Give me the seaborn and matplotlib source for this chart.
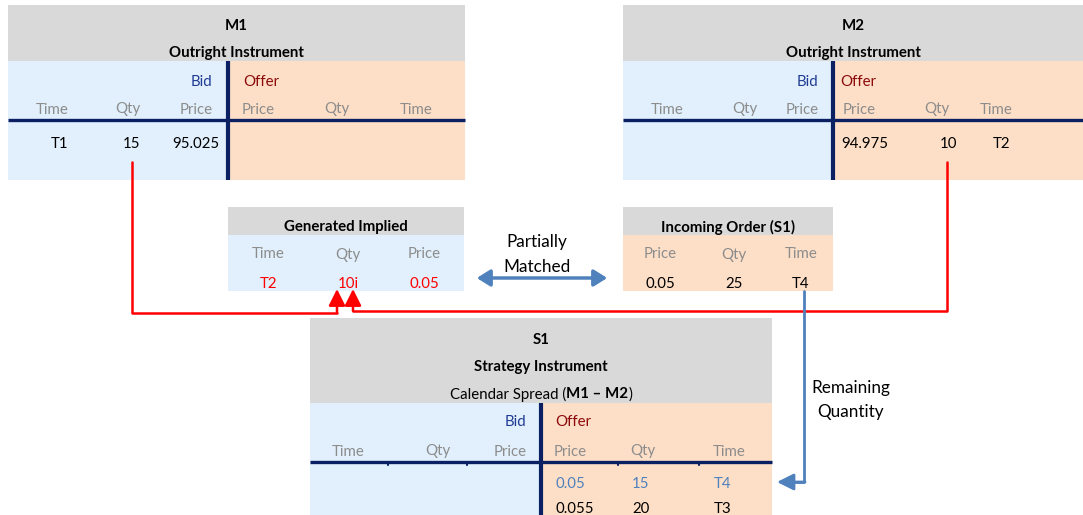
import matplotlib
matplotlib.use("Agg")
import matplotlib.pyplot as plt
import seaborn as sns
from matplotlib.patches import Rectangle, FancyArrowPatch

# text content of the diagram
m1_title = ["M1", "Outright Instrument"]
m2_title = ["M2", "Outright Instrument"]
bid_cols = ["Time", "Qty", "Price"]
offer_cols = ["Price", "Qty", "Time"]
m1_bid = ["T1", "15", "95.025"]
m2_offer = ["94.975", "10", "T2"]
implied_cols = ["Time", "Qty", "Price"]
implied_vals = ["T2", "10i", "0.05"]
incoming_cols = ["Price", "Qty", "Time"]
incoming_vals = ["0.05", "25", "T4"]
s1_title = ["S1", "Strategy Instrument"]
s1_offer_rows = [["0.05", "15", "T4"], ["0.055", "20", "T3"]]

sns.set_theme(style="white")
plt.rcParams['font.family'] = ['Lato', 'DejaVu Sans']

GRAY = "#D9D9D9"
BLUE_BG = "#E1F0FC"
ORANGE_BG = "#FDDFC8"
NAVY = "#0B2062"
HDR = "#8C8C8C"
BIDC = "#1F3A93"
OFFC = "#8B0A0A"
RED = "#FF0000"
ARROW = "#4F81BD"
FS = 10.8

fig = plt.figure(figsize=(10.83, 5.15), dpi=100)
ax = fig.add_axes([0, 0, 1, 1])
ax.set_xlim(0, 1083)
ax.set_ylim(515, 0)
ax.axis('off')


def rect(x0, y0, x1, y1, color):
    ax.add_patch(Rectangle((x0, y0), x1 - x0, y1 - y0, facecolor=color, edgecolor='none', zorder=1))


def txt(x, y, s, ha='center', color='black', bold=False, fs=FS):
    # small downward nudge so the glyphs sit like the reference
    ax.text(x, y + 1.5, s, ha=ha, va='center', color=color, fontsize=fs,
            fontweight='bold' if bold else 'normal', zorder=5)


# ---- M1 ----
rect(8, 5, 465, 61, GRAY)
rect(8, 61, 228, 180, BLUE_BG)
rect(228, 61, 465, 180, ORANGE_BG)
txt(236, 25, m1_title[0], bold=True)
txt(236, 52, m1_title[1], bold=True)
txt(212, 80, "Bid", ha='right', color=BIDC)
txt(243, 80, "Offer", ha='left', color=OFFC)
for xx, c in zip([52, 128, 196], bid_cols):
    txt(xx, 108, c, color=HDR)
for xx, c in zip([258, 337, 416], offer_cols):
    txt(xx, 108, c, color=HDR)
for xx, v in zip([68, 140, 219], m1_bid):
    txt(xx, 142, v, ha='right')
ax.plot([8, 465], [119.5, 119.5], color=NAVY, lw=2.4, zorder=3, solid_capstyle='butt')
ax.plot([228, 228], [61, 180], color=NAVY, lw=3, zorder=3, solid_capstyle='butt')

# ---- M2 ----
rect(623, 5, 1083, 61, GRAY)
rect(623, 61, 833, 180, BLUE_BG)
rect(833, 61, 1083, 180, ORANGE_BG)
txt(853, 25, m2_title[0], bold=True)
txt(853, 52, m2_title[1], bold=True)
txt(818, 80, "Bid", ha='right', color=BIDC)
txt(840, 80, "Offer", ha='left', color=OFFC)
for xx, c in zip([667, 745, 802], bid_cols):
    txt(xx, 108, c, color=HDR)
for xx, c in zip([859, 937, 996], offer_cols):
    txt(xx, 108, c, color=HDR)
for xx, v in zip([841, 940, 993], m2_offer):
    txt(xx, 142, v, ha='left')
ax.plot([623, 1083], [119.5, 119.5], color=NAVY, lw=2.4, zorder=3, solid_capstyle='butt')
ax.plot([833, 833], [61, 180], color=NAVY, lw=3, zorder=3, solid_capstyle='butt')

# ---- Generated Implied ----
rect(228, 207, 464, 235, GRAY)
rect(228, 235, 464, 291, BLUE_BG)
txt(346, 226, "Generated Implied", bold=True)
for xx, c, v in zip([268, 348, 424], implied_cols, implied_vals):
    txt(xx, 253, c, color=HDR)
    txt(xx, 282, v, color=RED)

# ---- Incoming Order ----
rect(623, 207, 833, 235, GRAY)
rect(623, 235, 833, 291, ORANGE_BG)
txt(728, 226, "Incoming Order (S1)", bold=True)
for xx, c, v in zip([660, 734, 801], incoming_cols, incoming_vals):
    txt(xx, 253, c, color=HDR)
    txt(xx, 282, v)

# partially matched
txt(537, 241, "Partially", fs=12.3)
txt(537, 266, "Matched", fs=12.3)
ax.add_patch(FancyArrowPatch((474, 278), (610, 278), arrowstyle='<|-|>,head_length=8,head_width=5',
                             color=ARROW, lw=2.5, mutation_scale=1, zorder=4))

# ---- S1 ----
rect(310, 318, 772, 403, GRAY)
rect(310, 403, 541, 515, BLUE_BG)
rect(541, 403, 772, 515, ORANGE_BG)
txt(541, 338, s1_title[0], bold=True)
txt(541, 365, s1_title[1], bold=True)
# mixed weight line
r = fig.canvas.get_renderer()
parts = [("Calendar Spread (", False), ("M1 \u2013 M2", True), (")", False)]
widths = []
for s, b in parts:
    t = ax.text(0, 0, s, fontsize=FS, fontweight='bold' if b else 'normal')
    widths.append(t.get_window_extent(r).width)
    t.remove()
x0 = 541 - sum(widths) / 2
for (s, b), w in zip(parts, widths):
    txt(x0, 393, s, ha='left', bold=b)
    x0 += w
txt(526, 421, "Bid", ha='right', color=BIDC)
txt(555, 421, "Offer", ha='left', color=OFFC)
for xx, c in zip([348, 438, 510], bid_cols):
    txt(xx, 450, c, color=HDR)
for xx, c in zip([570, 643, 729], offer_cols):
    txt(xx, 450, c, color=HDR)
for row, yy, col in zip(s1_offer_rows, [482, 507.5], [ARROW, 'black']):
    for xx, v in zip([555, 632, 714], row):
        txt(xx, yy, v, ha='left', color=col)
ax.plot([310, 772], [462, 462], color=NAVY, lw=2.4, zorder=3, solid_capstyle='butt')
ax.plot([541, 541], [403, 515], color=NAVY, lw=3, zorder=3, solid_capstyle='butt')
for xx in [388, 467, 618, 699]:
    ax.plot([xx, xx], [462, 465], color=NAVY, lw=1.5, zorder=3)

# ---- red implied lines ----
ax.plot([132, 132, 337], [162, 313, 313], color=RED, lw=1.8, zorder=3)
ax.plot([947, 947, 353], [162, 311, 311], color=RED, lw=1.8, zorder=3)
for xx, y_base in [(337, 313), (353, 311)]:
    ax.add_patch(FancyArrowPatch((xx, y_base), (xx, 289), arrowstyle='-|>,head_length=10,head_width=5',
                                 color=RED, lw=1.8, mutation_scale=1, zorder=4,
                                 shrinkA=0, shrinkB=0))

# ---- remaining quantity arrow ----
ax.plot([804, 804, 792], [291, 482, 482], color=ARROW, lw=2, zorder=3)
ax.add_patch(FancyArrowPatch((805, 482), (777, 482), arrowstyle='-|>,head_length=10,head_width=5',
                             color=ARROW, lw=2, mutation_scale=1, zorder=4,
                             shrinkA=0, shrinkB=0))
txt(851, 386, "Remaining", fs=12.3)
txt(851, 410, "Quantity", fs=12.3)

fig.savefig("out.png", dpi=100)
